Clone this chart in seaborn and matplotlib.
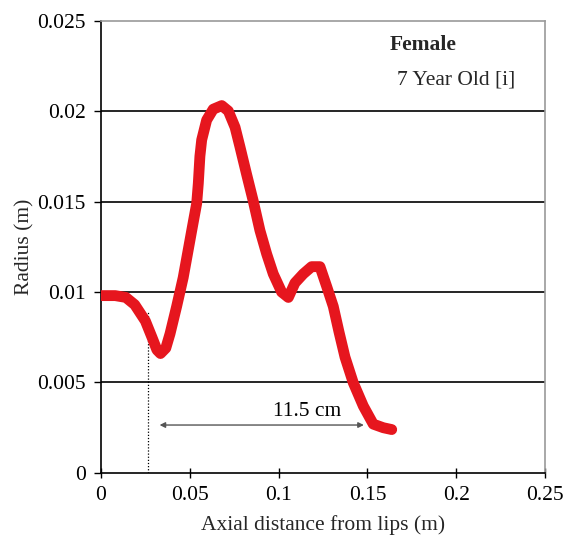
import matplotlib
matplotlib.use("Agg")
import matplotlib.pyplot as plt
import seaborn as sns
import pandas as pd

# Vocal tract radius profile along the axis (metres)
axial = [0.000, 0.008, 0.014, 0.019, 0.025, 0.0287, 0.0315, 0.0335, 0.0365,
         0.0389, 0.0426, 0.0463, 0.0511, 0.0539, 0.0548, 0.0557, 0.0567,
         0.0595, 0.0632, 0.0680, 0.0717, 0.0755, 0.0783, 0.0820, 0.0858,
         0.0895, 0.0933, 0.0970, 0.1017, 0.1055, 0.1092, 0.1139, 0.1186,
         0.1233, 0.1271, 0.1308, 0.1340, 0.1374, 0.1420, 0.1477, 0.1533,
         0.1590, 0.1637]
radius = [0.0098, 0.0098, 0.0097, 0.0093, 0.0084, 0.0075, 0.0068, 0.0066,
          0.0069, 0.0077, 0.0092, 0.0108, 0.0134, 0.0149, 0.0160, 0.0175,
          0.0184, 0.0195, 0.0201, 0.0203, 0.0200, 0.0191, 0.0180, 0.0165,
          0.0150, 0.0134, 0.0121, 0.0110, 0.0100, 0.0097, 0.0105, 0.0110,
          0.0114, 0.0114, 0.0103, 0.0092, 0.0078, 0.0064, 0.0050, 0.0037,
          0.0027, 0.0025, 0.0024]

x_ticks = [0, 0.05, 0.1, 0.15, 0.2, 0.25]
x_tick_labels = ["0", "0.05", "0.1", "0.15", "0.2", "0.25"]
y_ticks = [0, 0.005, 0.01, 0.015, 0.02, 0.025]
y_tick_labels = ["0", "0.005", "0.01", "0.015", "0.02", "0.025"]

# Marked section: start of the span and its length
span_start = 0.033
span_length = 0.115
span_label = "11.5 cm"
dotted_x = 0.0266
dotted_top = 0.0089

FS = 15.5

sns.set_theme(style="white")
plt.rcParams["font.family"] = ["Liberation Serif", "DejaVu Serif"]
plt.rcParams["font.size"] = FS

fig = plt.figure(figsize=(5.66, 5.37), dpi=100)
ax = fig.add_axes([0.1784, 0.1192, 0.7845, 0.8426])

df = pd.DataFrame({"x": axial, "r": radius})

# horizontal reference lines
for yv in y_ticks[1:-1]:
    ax.axhline(yv, color="black", lw=1.2, zorder=1)

sns.lineplot(data=df, x="x", y="r", sort=False, estimator=None, ax=ax,
             color="#e6161e", lw=7.8, solid_capstyle="round",
             solid_joinstyle="round", zorder=3)

# dotted marker line
ax.plot([dotted_x, dotted_x], [0, dotted_top], color="black", lw=0.9,
        ls=(0, (1, 1.5)), zorder=2)

# double-headed span arrow
ax.annotate("", xy=(span_start, 0.00265),
            xytext=(span_start + span_length, 0.00265),
            arrowprops=dict(arrowstyle="<|-|>", color="#555555", lw=1.0,
                            mutation_scale=8, shrinkA=0, shrinkB=0),
            zorder=4)
ax.text(span_start + span_length * 0.72, 0.0034, span_label, ha="center",
        va="center", fontsize=FS, color="black")

ax.text(0.1627, 0.02362, "Female", fontweight="bold", ha="left", va="center",
        fontsize=FS)
ax.text(0.1667, 0.0217, "7 Year Old [i]", ha="left", va="center", fontsize=FS)

ax.set_xlim(0, 0.25)
ax.set_ylim(0, 0.025)
ax.set_xticks(x_ticks)
ax.set_xticklabels(x_tick_labels)
ax.set_yticks(y_ticks)
ax.set_yticklabels(y_tick_labels)
ax.set_xlabel("Axial distance from lips (m)", fontsize=FS, labelpad=7)
ax.set_ylabel("Radius (m)", fontsize=FS, labelpad=2)

ax.tick_params(axis="x", direction="inout", length=7, width=1, pad=6,
               bottom=True, colors="black", labelsize=FS)
ax.tick_params(axis="y", direction="out", length=5, width=1, pad=6,
               left=True, colors="black", labelsize=FS)

for side in ("left", "bottom"):
    ax.spines[side].set_color("black")
    ax.spines[side].set_linewidth(1.2)
for side in ("top", "right"):
    ax.spines[side].set_color("#9a9a9a")
    ax.spines[side].set_linewidth(1.2)

fig.savefig("out.png", dpi=100)
